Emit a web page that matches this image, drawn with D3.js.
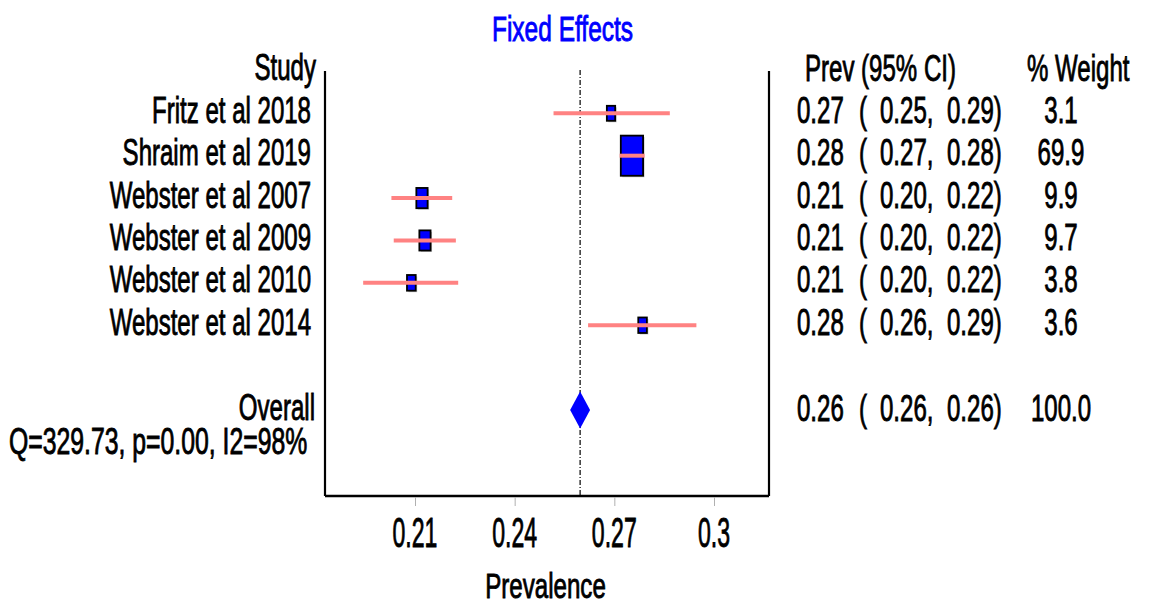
<!DOCTYPE html>
<html>
<head>
<meta charset="utf-8">
<script src="https://cdn.jsdelivr.net/npm/d3@7"></script>
<style>
  html, body { margin: 0; padding: 0; background: #fff; }
  svg { display: block; font-family: "Liberation Sans", Arial, sans-serif; }
</style>
</head>
<body>
<div id="chart"></div>
<script>
// ===== DATA =====
const studies = ["Fritz et al 2018", "Shraim et al 2019", "Webster et al 2007", "Webster et al 2009", "Webster et al 2010", "Webster et al 2014"];
const prev = [0.269, 0.2753, 0.2121, 0.2130, 0.2089, 0.2785];
const lower = [0.2517, 0.2716, 0.2029, 0.2036, 0.1944, 0.2621];
const upper = [0.2867, 0.2791, 0.2212, 0.2223, 0.2230, 0.2947];
const weights = [3.1, 69.9, 9.9, 9.7, 3.8, 3.6];
const prevText = ["0.27", "0.28", "0.21", "0.21", "0.21", "0.28"];
const lowerText = ["0.25,", "0.27,", "0.20,", "0.20,", "0.20,", "0.26,"];
const upperText = ["0.29)", "0.28)", "0.22)", "0.22)", "0.22)", "0.29)"];
const weightText = ["3.1", "69.9", "9.9", "9.7", "3.8", "3.6"];

const overall = { label: "Overall", prev: 0.2597, lower: 0.2567, upper: 0.2627, prevText: "0.26", lowerText: "0.26,", upperText: "0.26)", weightText: "100.0" };
const heterogeneity = "Q=329.73, p=0.00, I2=98%";
const xTicks = [0.21, 0.24, 0.27, 0.30];
const chartTitle = "Fixed Effects";
const xTitle = "Prevalence";

// ===== LAYOUT =====
const W = 1149, H = 608;
const frame = { left: 325, right: 769, top: 71, bottom: 496 };

const svg = d3.select('#chart').append('svg')
  .attr('width', W)
  .attr('height', H);

const x = d3.scaleLinear().domain([0.21, 0.30]).range([415, 714]);
const y = d3.scaleLinear().domain([0, 7]).range([113.3, 410]);
const boxW = d3.scaleSqrt().domain([0, 69.9]).range([4.6, 22.3]);

// narrow, tall text like the original
function txt(parent, px, py, str, o = {}) {
  const fill = o.fill || '#000';
  return parent.append('text')
    .attr('transform', `translate(${px},${py}) scale(${o.sx || 0.65},1)`)
    .attr('font-size', o.size || 37)
    .attr('text-anchor', o.anchor || 'start')
    .attr('fill', fill)
    .attr('stroke', fill)
    .attr('stroke-width', 0.9)
    .text(str);
}

// ===== TITLE =====
txt(svg, 562.5, 41, chartTitle, { size: 35, sx: 0.7, anchor: 'middle', fill: '#0000ff' });

// ===== FRAME =====
svg.append('line')
  .attr('x1', frame.left).attr('x2', frame.left)
  .attr('y1', frame.top).attr('y2', frame.bottom)
  .attr('stroke', '#000').attr('stroke-width', 2.2);
svg.append('line')
  .attr('x1', frame.right).attr('x2', frame.right)
  .attr('y1', frame.top).attr('y2', frame.bottom)
  .attr('stroke', '#000').attr('stroke-width', 2.2);
svg.append('line')
  .attr('x1', frame.left).attr('x2', frame.right)
  .attr('y1', frame.bottom).attr('y2', frame.bottom)
  .attr('stroke', '#000').attr('stroke-width', 2.6);

// ===== X AXIS =====
const axis = svg.append('g')
  .attr('transform', `translate(0,${frame.bottom + 1})`)
  .call(d3.axisBottom(x).tickValues(xTicks).tickSize(9).tickFormat(d3.format('~g')));
axis.select('.domain').remove();
axis.selectAll('.tick line').attr('stroke', '#b0b0b0').attr('stroke-width', 1);
axis.selectAll('.tick text').remove();
xTicks.forEach(t => txt(svg, x(t), 547, d3.format('~g')(t), { size: 42, sx: 0.55, anchor: 'middle' }));

txt(svg, 545.5, 598, xTitle, { size: 36, sx: 0.67, anchor: 'middle' });

// ===== REFERENCE LINE =====
svg.append('line')
  .attr('x1', x(overall.prev)).attr('x2', x(overall.prev))
  .attr('y1', 70).attr('y2', frame.bottom)
  .attr('stroke', '#000').attr('stroke-width', 1.2)
  .attr('stroke-dasharray', '5,2,1,2');

// ===== STUDY MARKERS =====
const rows = studies.map((s, i) => ({ s, i, prev: prev[i], lo: lower[i], hi: upper[i], w: weights[i] }));

svg.selectAll('.box-shadow')
  .data(rows)
  .join('rect')
  .attr('class', 'box-shadow')
  .attr('x', d => x(d.prev) - boxW(d.w) / 2 + 1.5)
  .attr('y', d => y(d.i) - boxW(d.w) * 0.9 + 1.5)
  .attr('width', d => boxW(d.w))
  .attr('height', d => boxW(d.w) * 1.8)
  .attr('fill', '#c8c8c8');

svg.selectAll('.box')
  .data(rows)
  .join('rect')
  .attr('class', 'box')
  .attr('x', d => x(d.prev) - boxW(d.w) / 2)
  .attr('y', d => y(d.i) - boxW(d.w) * 0.9)
  .attr('width', d => boxW(d.w))
  .attr('height', d => boxW(d.w) * 1.8)
  .attr('fill', '#0000ff')
  .attr('stroke', '#000')
  .attr('stroke-width', 1.8);

svg.selectAll('.ci')
  .data(rows)
  .join('line')
  .attr('class', 'ci')
  .attr('x1', d => x(d.lo)).attr('x2', d => x(d.hi))
  .attr('y1', d => y(d.i)).attr('y2', d => y(d.i))
  .attr('stroke', '#ff8282')
  .attr('stroke-width', 4);

// ===== OVERALL DIAMOND =====
const oy = y(7);
svg.append('path')
  .attr('d', `M${x(overall.lower)},${oy} L${x(overall.prev)},${oy - 18.5} L${x(overall.upper)},${oy} L${x(overall.prev)},${oy + 18.5} Z`)
  .attr('fill', '#0000ff');

// ===== LEFT LABELS =====
txt(svg, 316, 80, 'Study', { anchor: 'end' });
rows.forEach(d => txt(svg, 311, y(d.i) + 9.5, d.s, { anchor: 'end' }));
txt(svg, 315, oy + 10, overall.label, { anchor: 'end' });
txt(svg, 9, 454, heterogeneity, { sx: 0.67 });

// ===== RIGHT COLUMNS =====
txt(svg, 805, 81, 'Prev (95% CI)');
txt(svg, 1027, 81, '% Weight');

function rightRow(py, p, lo, hi, wt) {
  txt(svg, 797, py, p);
  txt(svg, 859, py, '(');
  txt(svg, 880, py, lo);
  txt(svg, 947, py, hi);
  txt(svg, 1061, py, wt, { anchor: 'middle' });
}
rows.forEach(d => rightRow(y(d.i) + 9.5, prevText[d.i], lowerText[d.i], upperText[d.i], weightText[d.i]));
rightRow(oy + 11, overall.prevText, overall.lowerText, overall.upperText, overall.weightText);
</script>
</body>
</html>
